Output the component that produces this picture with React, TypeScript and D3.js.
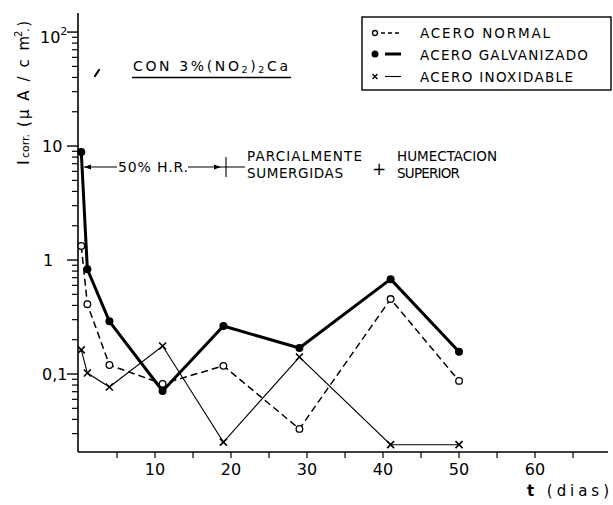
import React from 'react';
import * as d3 from 'd3';

// dias de ensayo
const days = [0.3, 1.1, 4, 11, 19, 29, 41, 50];
// Icorr (uA/cm2)
const acNormal = [1.33, 0.41, 0.12, 0.082, 0.118, 0.033, 0.455, 0.087];
const acGalvanizado = [8.86, 0.83, 0.29, 0.071, 0.264, 0.169, 0.68, 0.157];
const acInoxidable = [0.163, 0.102, 0.077, 0.176, 0.0253, 0.141, 0.024, 0.024];

const xTicks = [5, 10, 15, 20, 25, 30, 35, 40, 45, 50, 55, 60, 65];
const xLabels = [10, 20, 30, 40, 50, 60];
const legendLabels = ['ACERO  NORMAL', 'ACERO  GALVANIZADO', 'ACERO  INOXIDABLE'];

const W = 613;
const H = 505;
const font = '"DejaVu Sans", sans-serif';

const App = () => {
    const x = d3.scaleLinear().domain([0, 69.6]).range([79, 608]);
    const y = d3.scaleLog().domain([0.0207, 147]).range([452, 13]);

    const line = d3.line<[number, number]>()
        .x(d => x(d[0]))
        .y(d => y(d[1]));

    const pts = (vals: number[]) => days.map((d, i) => [d, vals[i]] as [number, number]);

    // ticks menores del eje log
    const minor: number[] = [];
    [0.01, 0.1, 1, 10].forEach(dec => {
        for (let k = 2; k <= 9; k++) {
            const v = dec * k;
            if (v > 0.0207 && v < 147) minor.push(v);
        }
    });
    const major = [0.1, 1, 10, 100];

    const xMark = (cx: number, cy: number, s = 3.5) =>
        `M${cx - s},${cy - s}L${cx + s},${cy + s}M${cx - s},${cy + s}L${cx + s},${cy - s}`;

    return (
        <svg width={W} height={H} style={{ position: 'absolute', left: 0, top: 0, background: '#fff' }}
            fontFamily={font}>
            <rect width={W} height={H} fill="#fff" />

            {/* ejes */}
            <line x1={78} x2={78} y1={13} y2={452} stroke="#000" strokeWidth={1.6} />
            <line x1={78} x2={608} y1={452} y2={452} stroke="#000" strokeWidth={1.6} />
            {minor.map(v => (
                <line key={'mi' + v} x1={72} x2={78} y1={y(v)} y2={y(v)} stroke="#000" strokeWidth={1.2} />
            ))}
            {major.map(v => (
                <line key={'ma' + v} x1={67} x2={78} y1={y(v)} y2={y(v)} stroke="#000" strokeWidth={1.4} />
            ))}
            {xTicks.map(t => (
                <line key={'xt' + t} x1={x(t)} x2={x(t)} y1={452} y2={458} stroke="#000" strokeWidth={1.2} />
            ))}
            {xLabels.map(t => (
                <text key={'xl' + t} x={x(t)} y={475} fontSize={16} textAnchor="middle">{t}</text>
            ))}

            {/* etiquetas eje y */}
            <text x={40} y={43} fontSize={16}>10<tspan dy={-8} fontSize={11}>2</tspan></text>
            <text x={42} y={152} fontSize={16}>10</text>
            <text x={43} y={266} fontSize={16}>1</text>
            <text x={42} y={380} fontSize={16}>0,1</text>

            <g transform="translate(29,165) rotate(-90)">
                <text x={0} y={0} fontSize={16}>I</text>
                <text x={7} y={0} fontSize={11}>corr.</text>
                <text x={38} y={0} fontSize={15} textLength={106} lengthAdjust="spacing">(μ A / c m  )</text>
                <text x={128} y={-7} fontSize={10}>2</text>
                <text x={133} y={0} fontSize={12}>.</text>
            </g>

            <text x={527} y={496} fontSize={15} textLength={82} lengthAdjust="spacing">
                <tspan fontWeight="bold">t</tspan> (dias)
            </text>

            {/* titulo */}
            <text x={133} y={71} fontSize={14} textLength={155} lengthAdjust="spacing">
                CON  3%(NO<tspan fontSize={9.5} dy={2}>2</tspan><tspan fontSize={14} dy={-2}>)</tspan><tspan fontSize={9.5} dy={2}>2</tspan><tspan fontSize={14} dy={-2}>Ca</tspan>
            </text>
            <line x1={132} x2={291} y1={77.5} y2={77.5} stroke="#000" strokeWidth={1.4} />
            <path d="M95,76L99,70" stroke="#000" strokeWidth={2.2} strokeLinecap="round" />

            {/* anotaciones */}
            <line x1={84} x2={117} y1={167} y2={167} stroke="#000" strokeWidth={1.1} />
            <path d="M84,167L91,164.5L91,169.5Z" fill="#000" />
            <text x={118} y={172} fontSize={14} textLength={70} lengthAdjust="spacing">50% H.R.</text>
            <line x1={188} x2={245} y1={167} y2={167} stroke="#000" strokeWidth={1.1} />
            <path d="M221,167L214,164.5L214,169.5Z" fill="#000" />
            <line x1={226} x2={226} y1={157} y2={177} stroke="#000" strokeWidth={1.1} />
            <text x={247} y={161} fontSize={13.5} textLength={115} lengthAdjust="spacing">PARCIALMENTE</text>
            <text x={247} y={178} fontSize={13.5} textLength={96} lengthAdjust="spacing">SUMERGIDAS</text>
            <text x={379} y={175} fontSize={17} textAnchor="middle">+</text>
            <text x={397} y={161} fontSize={13.5} textLength={100} lengthAdjust="spacing">HUMECTACION</text>
            <text x={397} y={178} fontSize={13.5} textLength={63} lengthAdjust="spacing">SUPERIOR</text>

            {/* series */}
            <path d={line(pts(acNormal)) || ''} fill="none" stroke="#000" strokeWidth={1.5} strokeDasharray="7,4" />
            <path d={line(pts(acGalvanizado)) || ''} fill="none" stroke="#000" strokeWidth={3} strokeLinejoin="round" />
            <path d={line(pts(acInoxidable)) || ''} fill="none" stroke="#000" strokeWidth={1.1} />

            {pts(acGalvanizado).map((p, i) => (
                <circle key={'g' + i} cx={x(p[0])} cy={y(p[1])} r={4} fill="#000" />
            ))}
            {pts(acNormal).map((p, i) => (
                <circle key={'n' + i} cx={x(p[0])} cy={y(p[1])} r={3.3} fill="#fff" stroke="#000" strokeWidth={1.3} />
            ))}
            {pts(acInoxidable).map((p, i) => (
                <path key={'x' + i} d={xMark(x(p[0]), y(p[1]))} stroke="#000" strokeWidth={1.6} />
            ))}

            {/* leyenda */}
            <rect x={362} y={17} width={249} height={73} fill="#fff" stroke="#000" strokeWidth={1.4} />
            <circle cx={375} cy={33} r={2.5} fill="#fff" stroke="#000" strokeWidth={1.3} />
            <line x1={381} x2={401} y1={33} y2={33} stroke="#000" strokeWidth={1.5} strokeDasharray="4,3" />
            <circle cx={375} cy={54} r={3.5} fill="#000" />
            <line x1={385} x2={401} y1={54} y2={54} stroke="#000" strokeWidth={3} />
            <path d={xMark(375, 76.5, 2.5)} stroke="#000" strokeWidth={1.4} />
            <line x1={385} x2={401} y1={76.5} y2={76.5} stroke="#000" strokeWidth={1.1} />
            {legendLabels.map((l, i) => (
                <text key={l} x={420} y={[38, 60, 82][i]} fontSize={13.5} textLength={[130, 168, 153][i]}
                    lengthAdjust="spacing">{l}</text>
            ))}
        </svg>
    );
};

export default App;
